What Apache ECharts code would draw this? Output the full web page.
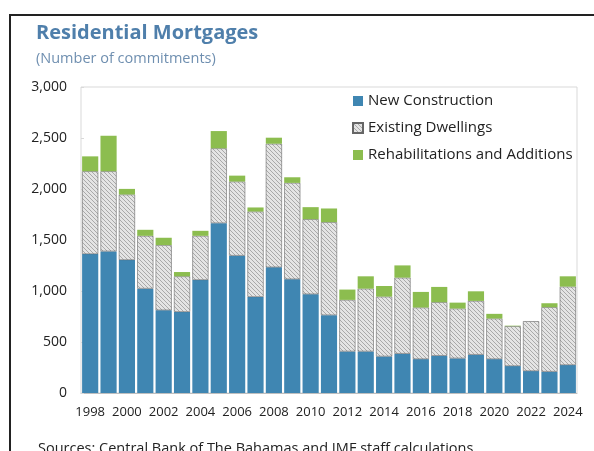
<!DOCTYPE html>
<html>
<head>
<meta charset="utf-8">
<script src="https://cdn.jsdelivr.net/npm/echarts@6/dist/echarts.min.js"></script>
<style>
  html, body { margin: 0; padding: 0; background: #fff; }
  #chart { width: 594px; height: 451px; }
</style>
</head>
<body>
<div id="chart"></div>
<script>
// Residential mortgage commitments by purpose, 1998-2024
const years = ['1998','1999','2000','2001','2002','2003','2004','2005','2006','2007','2008','2009','2010','2011',
               '2012','2013','2014','2015','2016','2017','2018','2019','2020','2021','2022','2023','2024'];
const newConstruction = [1362,1388,1304,1023,811,795,1108,1665,1346,942,1232,1115,968,763,
                         407,407,358,385,332,365,339,375,332,264,215,209,274];
const existingDwellings = [812,786,642,518,639,349,433,734,727,837,1212,945,736,912,
                           506,616,587,746,506,525,489,528,398,391,489,632,769];
const rehabilitations = [146,348,55,59,72,42,49,169,58,40,59,55,118,134,
                         101,121,104,120,153,150,58,94,46,5,0,39,101];

// fine diagonal hatch fill for existing dwellings
function hatch() {
  const n = 4;
  const c = document.createElement('canvas');
  c.width = n; c.height = n;
  const g = c.getContext('2d');
  g.fillStyle = '#e4e4e4';
  g.fillRect(0, 0, n, n);
  g.strokeStyle = '#a9a9a9';
  g.lineWidth = 1;
  g.beginPath();
  g.moveTo(-1, -1); g.lineTo(n + 1, n + 1);
  g.moveTo(-1, n - 1); g.lineTo(1, n + 1);
  g.moveTo(n - 1, -1); g.lineTo(n + 1, 1);
  g.stroke();
  return { image: c, repeat: 'repeat' };
}

const chart = echarts.init(document.getElementById('chart'), null, { renderer: 'canvas' });
const font = '"Open Sans", "Noto Sans", sans-serif';
const hatchFill = hatch();

chart.setOption({
  animation: false,
  textStyle: { fontFamily: font },
  title: [
    { text: 'Residential Mortgages', left: 31, top: 18,
      textStyle: { fontFamily: font, fontSize: 20, fontWeight: 'bold', color: '#4f7fab' } },
    { text: '(Number of commitments)', left: 31, top: 46,
      textStyle: { fontFamily: font, fontSize: 14.5, fontWeight: 'normal', color: '#6f8fb0' } },
    { text: 'Sources: Central Bank of The Bahamas and IMF staff calculations', left: 33, top: 436,
      textStyle: { fontFamily: font, fontSize: 14.5, fontWeight: 'normal', color: '#222' } }
  ],
  graphic: [
    { type: 'line', shape: { x1: 10, y1: 15, x2: 594, y2: 15 }, style: { stroke: '#222', lineWidth: 2 } },
    { type: 'line', shape: { x1: 10, y1: 14, x2: 10, y2: 451 }, style: { stroke: '#222', lineWidth: 2 } }
  ],
  legend: {
    left: 347, top: 86, orient: 'vertical', itemGap: 7,
    itemWidth: 10, itemHeight: 10,
    textStyle: { fontFamily: font, fontSize: 15, color: '#222', lineHeight: 20 },
    data: [
      { name: 'New Construction', icon: 'rect' },
      { name: 'Existing Dwellings', icon: 'rect' },
      { name: 'Rehabilitations and Additions', icon: 'rect' }
    ]
  },
  grid: { left: 81, right: 17, top: 87, bottom: 58, show: true, borderColor: '#d9d9d9', borderWidth: 1 },
  xAxis: {
    type: 'category', data: years,
    axisLine: { lineStyle: { color: '#bfbfbf' } },
    axisTick: { show: false },
    axisLabel: { interval: 1, fontSize: 13, color: '#222', margin: 13, fontFamily: font }
  },
  yAxis: {
    type: 'value', min: 0, max: 3000, interval: 500,
    splitLine: { show: false },
    axisLine: { show: false },
    axisTick: { show: true, inside: true, length: 3, lineStyle: { color: '#d9d9d9' } },
    axisLabel: { fontSize: 14, color: '#222', margin: 14, fontFamily: font,
      formatter: v => v.toLocaleString('en-US') }
  },
  series: [
    { name: 'New Construction', type: 'bar', stack: 'total', data: newConstruction,
      barCategoryGap: '12%', itemStyle: { color: '#3f86b2' } },
    { name: 'Existing Dwellings', type: 'bar', stack: 'total', data: existingDwellings,
      itemStyle: { color: hatchFill, borderColor: '#666', borderWidth: 0.6 } },
    { name: 'Rehabilitations and Additions', type: 'bar', stack: 'total', data: rehabilitations,
      itemStyle: { color: '#8cbd4f' } }
  ]
});
</script>
</body>
</html>
